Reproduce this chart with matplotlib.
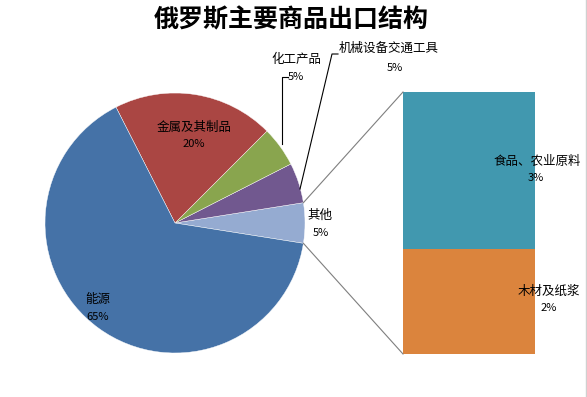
import numpy as np
import matplotlib
matplotlib.use('Agg')
import matplotlib.pyplot as plt

plt.rcParams['font.family'] = ['Noto Sans CJK SC', 'DejaVu Sans']

# pie data (counterclockwise from the right, starting with 其他)
pie_labels = ['其他', '机械设备交通工具', '化工产品', '金属及其制品', '能源']
pie_values = [5, 5, 5, 20, 65]
pie_colors = ['#95ABD1', '#71588F', '#89A54E', '#AA4643', '#4572A7']

# bar data for the "其他" breakdown (bottom to top)
bar_labels = ['木材及纸浆', '食品、农业原料']
bar_values = [2, 3]
bar_colors = ['#DB843D', '#4198AF']

W, H = 587, 397
fig = plt.figure(figsize=(W / 100, H / 100), dpi=100)
ax = fig.add_axes([0, 0, 1, 1])

cx, cy, r = 175, H - 223, 130
start = -pie_values[0] / sum(pie_values) * 360 / 2
ax.pie(pie_values, colors=pie_colors, center=(cx, cy), radius=r,
       startangle=start, counterclock=True,
       wedgeprops=dict(edgecolor='white', linewidth=0.3), frame=True)
ax.set_xlim(0, W)
ax.set_ylim(0, H)
ax.set_aspect('equal')
ax.axis('off')

# bar of pie
bx0, bx1, by0, by1 = 403, 535, H - 354, H - 92
bax = fig.add_axes([bx0 / W, by0 / H, (bx1 - bx0) / W, (by1 - by0) / H])
bottom = 0
for v, c in zip(bar_values, bar_colors):
    bax.bar(0, v, width=1, bottom=bottom, color=c)
    bottom += v
bax.set_xlim(-0.5, 0.5)
bax.set_ylim(0, sum(bar_values))
bax.axis('off')

# keep the main axes (texts, lines) above the bar
ax.set_zorder(2)
ax.patch.set_alpha(0)

# connector lines from the "其他" slice to the bar
half = np.deg2rad(pie_values[0] / sum(pie_values) * 360 / 2)
ax.plot([cx + r * np.cos(half), bx0], [cy + r * np.sin(half), by1], color='#7f7f7f', lw=0.8)
ax.plot([cx + r * np.cos(-half), bx0], [cy + r * np.sin(-half), by0], color='#7f7f7f', lw=0.8)

# leader lines
ax.plot([282, 282, 288], [H - 144, H - 77, H - 77], color='black', lw=0.8)
ax.plot([300, 332, 338], [H - 189, H - 54, H - 54], color='black', lw=0.8)

fs, ps = 9, 8
def label(x, y, name, pct, px=None, dy=17):
    ax.text(x, H - y, name, fontsize=fs, ha='center', va='center')
    ax.text(x if px is None else px, H - y - dy, pct, fontsize=ps, ha='center', va='center')

label(194, 127, '金属及其制品', '20%')
label(98, 300, '能源', '65%')
label(320, 215, '其他', '5%', px=321, dy=18)
label(296, 59, '化工产品', '5%', dy=18)
label(389, 48, '机械设备交通工具', '5%', px=395, dy=20)
label(537, 161, '食品、农业原料', '3%', px=536)
label(549, 291, '木材及纸浆', '2%')

ax.text(291, H - 20, '俄罗斯主要商品出口结构', fontsize=18, fontweight='bold',
        ha='center', va='center')

# chart border at the right edge
ax.plot([585.5, 585.5], [0, H], color='#d0d0d0', lw=1)

fig.savefig('out.png', dpi=100)
